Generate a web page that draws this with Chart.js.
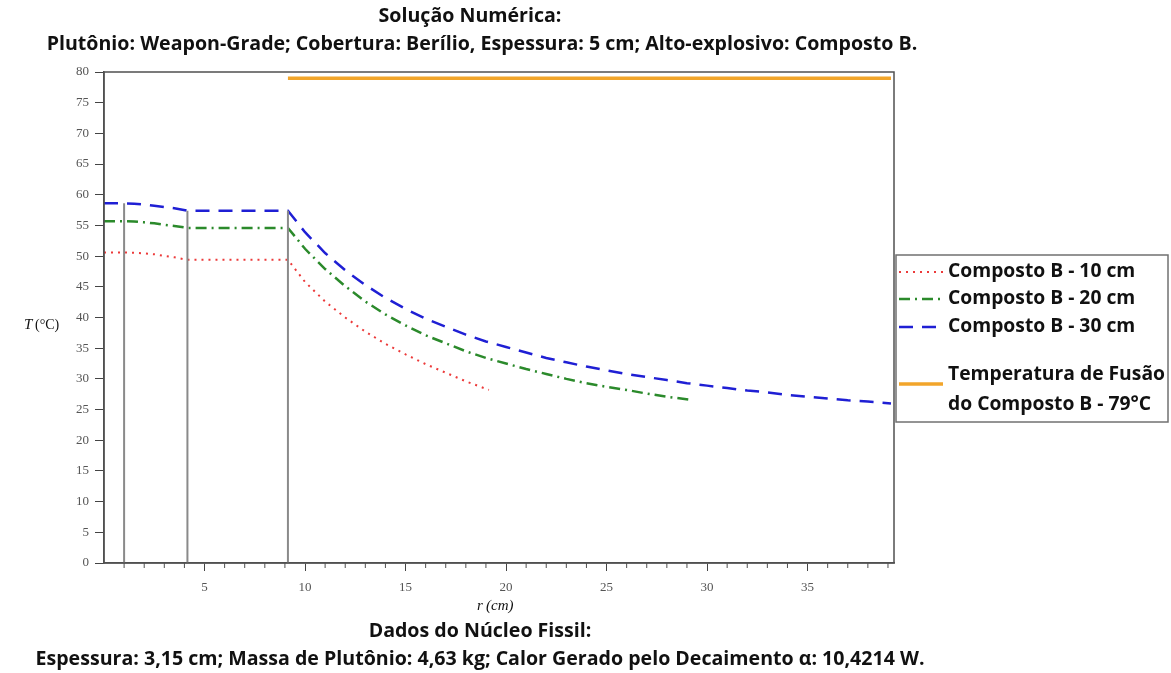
<!DOCTYPE html>
<html>
<head>
<meta charset="utf-8">
<script src="https://cdn.jsdelivr.net/npm/chart.js@4.4.1/dist/chart.umd.min.js"></script>
<style>
body{margin:0;background:#fff}
#wrap{position:relative;width:1171px;height:673px}
</style>
</head>
<body>
<div id="wrap"><canvas id="myChart"></canvas></div>
<script>
const chartEle = document.getElementById('myChart')

// r (cm) / T (°C) for each explosive thickness
const r10 = [0, 1, 1.5, 2, 2.5, 3, 3.5, 4.15, 9.15, 10, 11, 12, 13, 14, 15, 16, 17, 18, 19.15]
const t10 = [50.6, 50.6, 50.55, 50.45, 50.3, 50.05, 49.8, 49.4, 49.4, 45.8, 42.6, 40.0, 37.7, 35.7, 34.0, 32.4, 31.0, 29.6, 28.2]

const r20 = [0, 1, 1.5, 2, 2.5, 3, 3.5, 4.15, 9.15, 10, 11, 12, 13, 14, 15, 16, 17, 18, 19, 20, 21, 22, 23, 24, 25, 26, 27, 28, 29.15]
const t20 = [55.7, 55.7, 55.65, 55.5, 55.35, 55.1, 54.9, 54.6, 54.6, 51.2, 47.9, 45.1, 42.6, 40.5, 38.7, 37.1, 35.8, 34.5, 33.4, 32.5, 31.6, 30.8, 30.0, 29.3, 28.7, 28.2, 27.6, 27.1, 26.6]

const r30 = [0, 1, 1.5, 2, 2.5, 3, 3.5, 4.15, 9.15, 10, 11, 12, 13, 14, 15, 16, 17, 18, 19, 20, 21, 22, 23, 24, 25, 26, 27, 28, 29, 30, 31, 32, 33, 34, 35, 36, 37, 38, 39.15]
const t30 = [58.6, 58.6, 58.55, 58.4, 58.2, 58.0, 57.8, 57.4, 57.4, 53.9, 50.5, 47.7, 45.3, 43.2, 41.4, 39.8, 38.5, 37.2, 36.1, 35.2, 34.3, 33.4, 32.7, 32.0, 31.4, 30.8, 30.3, 29.8, 29.3, 28.9, 28.5, 28.1, 27.8, 27.4, 27.1, 26.8, 26.5, 26.3, 26.0]

// melting point of Composition B
const meltR = [9.15, 39.15]
const meltT = [79, 79]

// layer boundaries: cavity / core, core / beryllium, beryllium / explosive
const boundaryR = [1, 4.15, 9.15]
const boundaryTop = [58.6, 57.4, 57.4]

const legendLabels = [['Composto B - 10 cm'], ['Composto B - 20 cm'], ['Composto B - 30 cm'], ['Temperatura de Fusão', 'do Composto B - 79°C']]

function getLine(label, r, t, color, dash, width){
    return {
        label: label,
        data: r.map((x, i) => ({x: x, y: t[i]})),
        borderColor: color,
        borderDash: dash,
        borderWidth: width,
        showLine: true,
        pointRadius: 0,
        fill: false,
    }
}

let datasets = boundaryR.map((x, i) =>
    getLine('', [x, x], [0, boundaryTop[i]], '#8a8a8a', [], 2))
datasets.push(getLine(legendLabels[0][0], r10, t10, '#ec3a3a', [2, 5], 2))
datasets.push(getLine(legendLabels[1][0], r20, t20, '#2b8a2b', [11, 5, 2, 5], 2.5))
datasets.push(getLine(legendLabels[2][0], r30, t30, '#1f1fd4', [14, 9], 2.5))
datasets.push(getLine(legendLabels[3].join(' '), meltR, meltT, '#f2a52a', [], 3.5))

// font size that makes a line of bold text span the given width
function fitSize(ctx, text, width){
    ctx.font = 'bold 20px "Open Sans"'
    return 20 * width / ctx.measureText(text).width
}

const decor = {
    id: 'decor',
    afterDraw(chart){
        const ctx = chart.ctx
        const a = chart.chartArea
        const xs = chart.scales.x
        ctx.save()

        // frame
        ctx.strokeStyle = '#505050'
        ctx.lineWidth = 1.5
        ctx.setLineDash([])
        ctx.strokeRect(a.left, a.top, a.right - a.left, a.bottom - a.top)

        // minor ticks every cm
        ctx.lineWidth = 1
        for(let v = 1; v < 40; v++){
            if(v % 5 === 0) continue
            const px = xs.getPixelForValue(v)
            ctx.beginPath()
            ctx.moveTo(px, a.bottom)
            ctx.lineTo(px, a.bottom + 5)
            ctx.stroke()
        }

        // titles
        const titles = [
            ['Solução Numérica:', 470, 16],
            ['Plutônio: Weapon-Grade; Cobertura: Berílio, Espessura: 5 cm; Alto-explosivo: Composto B.', 482, 44],
            ['Dados do Núcleo Fissil:', 480, 631],
            ['Espessura: 3,15 cm; Massa de Plutônio: 4,63 kg; Calor Gerado pelo Decaimento α: 10,4214 W.', 480, 659],
        ]
        const titleSize = fitSize(ctx, titles[1][0], 869)
        ctx.fillStyle = '#111'
        ctx.textAlign = 'center'
        ctx.textBaseline = 'middle'
        ctx.font = 'bold ' + titleSize.toFixed(1) + 'px "Open Sans"'
        titles.forEach(t => ctx.fillText(t[0], t[1], t[2]))

        // axis labels
        ctx.font = 'italic 15px "Liberation Serif"'
        ctx.textAlign = 'left'
        ctx.fillText('r', 477, 606)
        ctx.fillText('(cm)', 486, 606)
        ctx.fillText('T', 24, 325)
        ctx.font = '14px "Liberation Serif"'
        ctx.fillText('(°C)', 35, 325)

        // legend
        const legendSize = fitSize(ctx, legendLabels[0][0], 187)
        ctx.strokeStyle = '#707070'
        ctx.lineWidth = 1.5
        ctx.strokeRect(896, 255, 272, 167)
        const rows = [272, 299, 327, 375]
        const sets = chart.data.datasets.slice(boundaryR.length)
        sets.forEach((ds, i) => {
            const y = rows[i]
            const lineY = i === 3 ? 384 : y
            ctx.strokeStyle = ds.borderColor
            ctx.lineWidth = ds.borderWidth
            ctx.setLineDash(ds.borderDash)
            ctx.beginPath()
            ctx.moveTo(899, lineY)
            ctx.lineTo(943, lineY)
            ctx.stroke()
            ctx.setLineDash([])
            ctx.fillStyle = '#111'
            ctx.font = 'bold ' + legendSize.toFixed(1) + 'px "Open Sans"'
            legendLabels[i].forEach((t, j) => ctx.fillText(t, 948, y + j * 30))
        })
        ctx.restore()
    }
}

const config = {
    type: 'scatter',
    data: {datasets: datasets},
    options: {
        responsive: true,
        maintainAspectRatio: false,
        animation: false,
        layout: {padding: {left: 0, top: 72, right: 277, bottom: 0}},
        plugins: {legend: {display: false}, tooltip: {enabled: false}},
        scales: {
            x: {
                type: 'linear', min: 0, max: 39.3,
                afterFit: s => { s.height = 110 },
                ticks: {stepSize: 5, includeBounds: false, padding: 9, color: '#555',
                    font: {family: 'Liberation Serif', size: 13},
                    callback: v => v === 0 ? '' : v},
                grid: {drawOnChartArea: false, tickLength: 8,
                    color: c => c.tick && c.tick.value === 0 ? 'rgba(0,0,0,0)' : '#444'},
                border: {color: '#505050', width: 1.5},
            },
            y: {
                min: 0, max: 80,
                afterFit: s => { s.width = 104 },
                ticks: {stepSize: 5, padding: 6, color: '#555',
                    font: {family: 'Liberation Serif', size: 13}},
                grid: {drawOnChartArea: false, tickLength: 9, color: '#444'},
                border: {color: '#505050', width: 1.5},
            }
        }
    },
    plugins: [decor]
}

const chart = new Chart(chartEle, config)
</script>
</body>
</html>
